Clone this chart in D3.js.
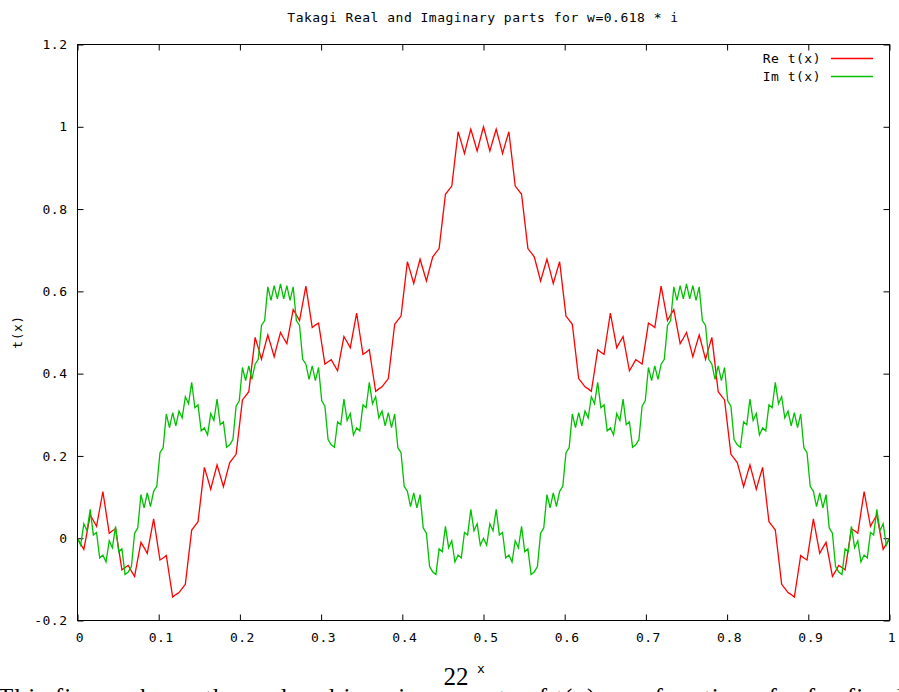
<!DOCTYPE html>
<html><head><meta charset="utf-8">
<script src="https://cdn.jsdelivr.net/npm/d3@7/dist/d3.min.js"></script>
<style>body{margin:0;background:#fff}svg{display:block}</style>
</head><body>
<svg id="chart" width="899" height="692"></svg>
<script>
const chartTitle = "Takagi Real and Imaginary parts for w=0.618 * i";
const yAxisTitle = "t(x)";
const xAxisTitle = "x";
const pageNumber = "22";
const captionText = "This figure shows the real and imaginary parts of t(x) as a function of x for fixed";
const xTickValues = [0,0.1,0.2,0.3,0.4,0.5,0.6,0.7,0.8,0.9,1];
const xTickLabels = ["0","0.1","0.2","0.3","0.4","0.5","0.6","0.7","0.8","0.9","1"];
const yTickValues = [-0.2,0,0.2,0.4,0.6,0.8,1,1.2];
const yTickLabels = ["-0.2","0","0.2","0.4","0.6","0.8","1","1.2"];
const seriesNames = ["Re t(x)","Im t(x)"];
const seriesColors = ["#ff0000","#00c000"];
const xDomain = [0,1];
const sampleCount = 257;

const reValues = [
0,-0.014,-0.027,0.014,0.056,0.043,0.029,0.071,0.113,0.063,0.012,0.018,0.023,-0.027,-0.077,-0.071,-0.066,-0.080,-0.093,-0.051,-0.010,-0.023,-0.037,0.005,0.047,-0.003,-0.053,-0.048,-0.042,-0.093,-0.143,-0.137,-0.132,-0.122,-0.112,-0.046,0.020,0.030,0.040,0.106,0.172,0.146,0.119,0.149,0.178,0.152,0.125,0.155,0.184,0.194,0.204,0.270,0.336,0.346,0.356,0.422,0.488,0.462,0.435,0.465,0.494,0.468,0.441,0.471,0.500,
0.486,0.473,0.514,0.556,0.543,0.529,0.571,0.613,0.563,0.512,0.518,0.523,0.473,0.423,0.429,0.434,0.420,0.407,0.449,0.490,0.477,0.463,0.505,0.547,0.497,0.447,0.452,0.458,0.407,0.357,0.363,0.368,0.378,0.388,0.454,0.520,0.530,0.540,0.606,0.672,0.646,0.619,0.649,0.678,0.652,0.625,0.655,0.684,0.694,0.704,0.770,0.836,0.846,0.856,0.922,0.988,0.962,0.935,0.965,0.994,0.968,0.941,0.971,1.000,
0.971,0.941,0.968,0.994,0.965,0.935,0.962,0.988,0.922,0.856,0.846,0.836,0.770,0.704,0.694,0.684,0.655,0.625,0.652,0.678,0.649,0.619,0.646,0.672,0.606,0.540,0.530,0.520,0.454,0.388,0.378,0.368,0.363,0.357,0.407,0.458,0.452,0.447,0.497,0.547,0.505,0.463,0.477,0.490,0.449,0.407,0.420,0.434,0.429,0.423,0.473,0.523,0.518,0.512,0.563,0.613,0.571,0.529,0.543,0.556,0.514,0.473,0.486,
0.500,0.471,0.441,0.468,0.494,0.465,0.435,0.462,0.488,0.422,0.356,0.346,0.336,0.270,0.204,0.194,0.184,0.155,0.125,0.152,0.178,0.149,0.119,0.146,0.172,0.106,0.040,0.030,0.020,-0.046,-0.112,-0.122,-0.132,-0.137,-0.143,-0.093,-0.042,-0.048,-0.053,-0.003,0.047,0.005,-0.037,-0.023,-0.010,-0.051,-0.093,-0.080,-0.066,-0.071,-0.077,-0.027,0.023,0.018,0.012,0.063,0.113,0.071,0.029,0.043,0.056,0.014,-0.027,-0.014,0
];

const imValues = [
0,-0.017,0.035,0.018,0.070,0.008,0.014,-0.048,-0.041,-0.058,-0.006,-0.023,0.029,-0.033,-0.026,-0.088,-0.082,-0.069,0.012,0.025,0.106,0.074,0.110,0.077,0.114,0.126,0.208,0.220,0.302,0.269,0.305,0.273,0.309,0.292,0.344,0.327,0.379,0.317,0.324,0.261,0.268,0.251,0.303,0.286,0.338,0.276,0.283,0.221,0.227,0.240,0.321,0.334,0.415,0.383,0.419,0.386,0.423,0.435,0.517,0.529,0.611,0.578,0.614,0.582,0.618,
0.582,0.614,0.578,0.611,0.529,0.517,0.435,0.423,0.386,0.419,0.383,0.415,0.334,0.321,0.240,0.227,0.221,0.283,0.276,0.338,0.286,0.303,0.251,0.268,0.261,0.324,0.317,0.379,0.327,0.344,0.292,0.309,0.273,0.305,0.269,0.302,0.220,0.208,0.126,0.114,0.077,0.110,0.074,0.106,0.025,0.012,-0.069,-0.082,-0.088,-0.026,-0.033,0.029,-0.023,-0.006,-0.058,-0.041,-0.048,0.014,0.008,0.070,0.018,0.035,-0.017,0,
-0.017,0.035,0.018,0.070,0.008,0.014,-0.048,-0.041,-0.058,-0.006,-0.023,0.029,-0.033,-0.026,-0.088,-0.082,-0.069,0.012,0.025,0.106,0.074,0.110,0.077,0.114,0.126,0.208,0.220,0.302,0.269,0.305,0.273,0.309,0.292,0.344,0.327,0.379,0.317,0.324,0.261,0.268,0.251,0.303,0.286,0.338,0.276,0.283,0.221,0.227,0.240,0.321,0.334,0.415,0.383,0.419,0.386,0.423,0.435,0.517,0.529,0.611,0.578,0.614,0.582,0.618,
0.582,0.614,0.578,0.611,0.529,0.517,0.435,0.423,0.386,0.419,0.383,0.415,0.334,0.321,0.240,0.227,0.221,0.283,0.276,0.338,0.286,0.303,0.251,0.268,0.261,0.324,0.317,0.379,0.327,0.344,0.292,0.309,0.273,0.305,0.269,0.302,0.220,0.208,0.126,0.114,0.077,0.110,0.074,0.106,0.025,0.012,-0.069,-0.082,-0.088,-0.026,-0.033,0.029,-0.023,-0.006,-0.058,-0.041,-0.048,0.014,0.008,0.070,0.018,0.035,-0.017,0
];

const svg = d3.select("#chart");
const W = 899, H = 692;
svg.append("rect").attr("width", W).attr("height", H).attr("fill", "#fff");

const plot = {left: 77.5, right: 889.5, top: 44.5, bottom: 620.5};
const x = d3.scaleLinear().domain(xDomain).range([plot.left, plot.right]);
const y = d3.scaleLinear().domain([-0.2, 1.2]).range([plot.bottom, plot.top]);

const monoFont = "'DejaVu Sans Mono', 'Liberation Mono', monospace";
const fontSize = "13px";
const spacing = "0.5px";

const sampleX = d3.range(sampleCount).map(i => xDomain[0] + (xDomain[1] - xDomain[0]) * i / (sampleCount - 1));

// axes (ticks inward, mirrored)
const bottomAxis = d3.axisBottom(x).tickValues(xTickValues).tickFormat((d, i) => xTickLabels[i]).tickSizeInner(-6).tickSizeOuter(0).tickPadding(12);
const topAxis = d3.axisTop(x).tickValues(xTickValues).tickFormat("").tickSizeInner(-6).tickSizeOuter(0);
const leftAxis = d3.axisLeft(y).tickValues(yTickValues).tickFormat((d, i) => yTickLabels[i]).tickSizeInner(-6).tickSizeOuter(0).tickPadding(10);
const rightAxis = d3.axisRight(y).tickValues(yTickValues).tickFormat("").tickSizeInner(-6).tickSizeOuter(0);

function styleAxis(g) {
  g.select(".domain").remove();
  g.selectAll(".tick line").attr("stroke", "#000").attr("stroke-width", 1);
  g.selectAll(".tick text").attr("fill", "#000").style("font-family", monoFont).style("font-size", fontSize).style("letter-spacing", spacing);
}
svg.append("g").attr("transform", `translate(0,${plot.bottom})`).call(bottomAxis).call(styleAxis)
  .selectAll(".tick text").attr("dx", 2);
svg.append("g").attr("transform", `translate(0,${plot.top})`).call(topAxis).call(styleAxis);
svg.append("g").attr("transform", `translate(${plot.left},0)`).call(leftAxis).call(styleAxis);
svg.append("g").attr("transform", `translate(${plot.right},0)`).call(rightAxis).call(styleAxis);

// series
const line = d3.line().x((d, i) => x(sampleX[i])).y(d => y(d));
const series = [reValues, imValues];
series.forEach((vals, k) => {
  svg.append("path").datum(vals).attr("d", line).attr("fill", "none")
    .attr("stroke", seriesColors[k]).attr("stroke-width", 1.3).attr("stroke-linejoin", "miter");
});

// frame
svg.append("rect").attr("x", plot.left).attr("y", plot.top)
  .attr("width", plot.right - plot.left).attr("height", plot.bottom - plot.top)
  .attr("fill", "none").attr("stroke", "#000").attr("stroke-width", 1);

// title
svg.append("text").attr("x", 483).attr("y", 21.5).attr("text-anchor", "middle")
  .style("font-family", monoFont).style("font-size", fontSize).style("letter-spacing", spacing)
  .text(chartTitle);

// legend
const legendY = [58.5, 76.5];
seriesNames.forEach((name, k) => {
  svg.append("text").attr("x", 821).attr("y", legendY[k] + 4.6).attr("text-anchor", "end")
    .style("font-family", monoFont).style("font-size", fontSize).style("letter-spacing", spacing)
    .text(name);
  svg.append("line").attr("x1", 831).attr("x2", 873).attr("y1", legendY[k]).attr("y2", legendY[k])
    .attr("stroke", seriesColors[k]).attr("stroke-width", 1.3);
});

// y axis title
svg.append("text").attr("transform", "translate(22,332) rotate(-90)").attr("text-anchor", "middle")
  .style("font-family", monoFont).style("font-size", fontSize).style("letter-spacing", spacing)
  .text(yAxisTitle);

// x axis title
svg.append("text").attr("x", 481).attr("y", 673).attr("text-anchor", "middle")
  .style("font-family", monoFont).style("font-size", fontSize)
  .text(xAxisTitle);

// page number and caption (document context)
svg.append("text").attr("x", 456).attr("y", 685).attr("text-anchor", "middle")
  .style("font-family", "'Liberation Serif', 'DejaVu Serif', serif").style("font-size", "25px")
  .text(pageNumber);
svg.append("text").attr("x", -2).attr("y", 706)
  .attr("textLength", 905).attr("lengthAdjust", "spacing")
  .style("font-family", "'Liberation Serif', 'DejaVu Serif', serif").style("font-size", "25px")
  .text(captionText);
</script>
</body></html>
